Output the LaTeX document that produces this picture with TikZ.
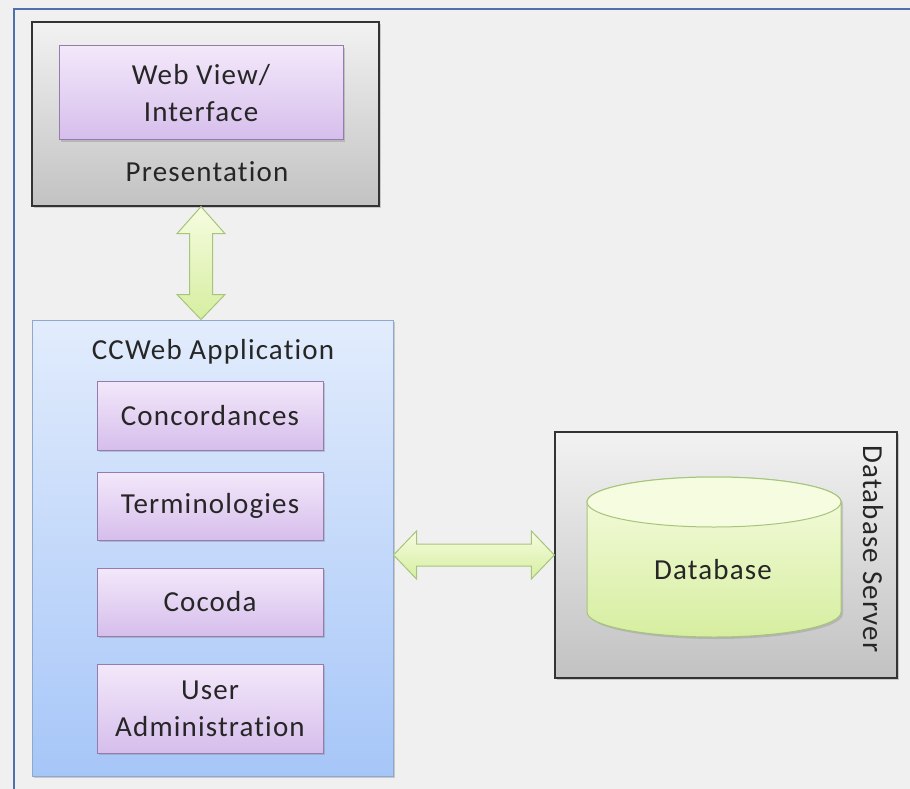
\documentclass[tikz,border=0pt]{standalone}
\usepackage{fontspec}
\setmainfont{Carlito}[LetterSpace=4, Ligatures=NoCommon, RawFeature={-liga;-clig;-dlig}]
\usetikzlibrary{calc,shadows}

\definecolor{pagebg}{HTML}{F0F0F0}
\definecolor{framecol}{HTML}{4F70AA}
\definecolor{txt}{HTML}{262626}
\definecolor{grayTop}{HTML}{F2F2F2}
\definecolor{grayBot}{HTML}{C2C2C2}
\definecolor{purTop}{HTML}{F3E8FA}
\definecolor{purBot}{HTML}{D6BEEC}
\definecolor{purLine}{HTML}{957CAE}
\definecolor{bluTop}{HTML}{E2ECFC}
\definecolor{bluBot}{HTML}{A6C6F8}
\definecolor{bluLine}{HTML}{8EA8CE}
\definecolor{grnTop}{HTML}{F6FCE0}
\definecolor{grnBot}{HTML}{D6EEA0}
\definecolor{grnLine}{HTML}{A6C47C}

\tikzset{
  lbl/.style={text=txt, font=\fontsize{29}{37}\selectfont, align=center},
  boxbase/.style={inner sep=0pt, anchor=center,
    drop shadow={shadow xshift=2pt, shadow yshift=-2pt, opacity=0.35}},
  layerbox/.style={boxbase, draw=black!80, line width=1.3pt,
    top color=grayTop, bottom color=grayBot},
  appbox/.style={boxbase, draw=bluLine, line width=1pt,
    top color=bluTop, bottom color=bluBot},
  modbox/.style={boxbase, lbl, draw=purLine, line width=1pt,
    top color=purTop, bottom color=purBot},
  blockarrow/.style={draw=grnLine, line width=1pt, line join=miter,
    top color=grnTop, bottom color=grnBot},
}

\begin{document}
\begin{tikzpicture}[x=1pt, y=-1pt]
  \useasboundingbox (0,0) rectangle (910,789);
  \clip (0,0) rectangle (910,789);
  \fill[pagebg] (0,0) rectangle (910,789);
  % outer frame, running off the right and bottom edges
  \draw[framecol, line width=1.6pt] (14,9) rectangle (930,810);

  % presentation layer
  \node[layerbox, minimum width=347, minimum height=184] (pres) at (205.5,114) {};
  \node[modbox, minimum width=284, minimum height=94] (webv) at (201,93) {Web View/\\Interface};
  \node[lbl] (presl) at (207,172) {Presentation};

  % application layer
  \node[appbox, minimum width=361, minimum height=456] (app) at (212.5,548) {};
  \node[lbl] (appl) at (213,352) {CCWeb Application};
  \node[modbox, minimum width=226, minimum height=69] (conc) at (210,415.5) {Concordances};
  \node[modbox, minimum width=226, minimum height=68] (term) at (210,506) {Terminologies};
  \node[modbox, minimum width=226, minimum height=68] (coco) at (210,602) {Cocoda};
  \node[modbox, minimum width=226, minimum height=89] (uadm) at (210,708.5) {User\\Administration};

  % database server
  \node[layerbox, minimum width=342, minimum height=246] (dbs) at (726,555) {};
  \node[lbl, rotate=-90] (dbsl) at (873,549) {Database Server};
  \path[draw=grnLine, line width=1pt, top color=grnTop, bottom color=grnBot,
        drop shadow={shadow xshift=2pt, shadow yshift=-2pt, opacity=0.3}]
    (587,502) -- (587,612)
    arc[start angle=180, end angle=360, x radius=127pt, y radius=25pt]
    -- (841,502)
    arc[start angle=0, end angle=180, x radius=127pt, y radius=25pt] -- cycle;
  \draw[grnLine, line width=1pt, fill=grnTop] (714,502) ellipse[x radius=127pt, y radius=25pt];
  \node[lbl] (db) at (713,570) {Database};

  % connectors
  \coordinate (v1) at (pres.south -| webv.center);
  \coordinate (v2) at (app.north -| webv.center);
  \path[blockarrow]
    (v1) -- ($(v1)+(24,27)$) -- ($(v1)+(11.5,27)$) -- ($(v2)+(11.5,-25)$)
    -- ($(v2)+(24,-25)$) -- (v2) -- ($(v2)+(-24,-25)$) -- ($(v2)+(-11.5,-25)$)
    -- ($(v1)+(-11.5,27)$) -- ($(v1)+(-24,27)$) -- cycle;

  \coordinate (h1) at (app.east |- dbs.center);
  \coordinate (h2) at (dbs.west);
  \path[blockarrow]
    (h1) -- ($(h1)+(23,-24)$) -- ($(h1)+(23,-11)$) -- ($(h2)+(-23,-11)$)
    -- ($(h2)+(-23,-24)$) -- (h2) -- ($(h2)+(-23,24)$) -- ($(h2)+(-23,11)$)
    -- ($(h1)+(23,11)$) -- ($(h1)+(23,24)$) -- cycle;
\end{tikzpicture}
\end{document}
